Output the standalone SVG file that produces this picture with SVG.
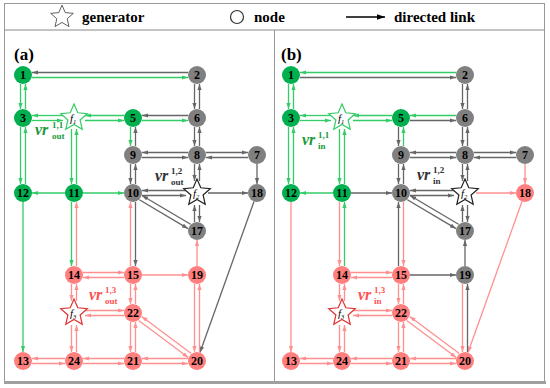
<svg xmlns="http://www.w3.org/2000/svg" width="550" height="388" viewBox="0 0 550 388">
<style>
.lg{stroke:#33cc66;stroke-width:1.3;fill:none;marker-end:url(#mg)}
.lk{stroke:#666;stroke-width:1.3;fill:none;marker-end:url(#mk)}
.lp{stroke:#ff9090;stroke-width:1.3;fill:none;marker-end:url(#mp)}
.ng{fill:#00b04f}
.nk{fill:#808080}
.np{fill:#ff7f7f}
.t{font-family:"Liberation Serif",serif;font-weight:bold;font-size:12px;text-anchor:middle;fill:#000}
.sf{font-family:"Liberation Serif",serif;font-style:italic;font-size:11px;fill:#000}
.ss{font-family:"Liberation Serif",serif;font-size:6.5px;fill:#000}
.vr{font-family:"Liberation Serif",serif;font-weight:bold;font-size:16px}
.vs{font-family:"Liberation Serif",serif;font-weight:bold;font-size:9px;font-style:normal}
.leg{font-family:"Liberation Serif",serif;font-weight:bold;font-size:15px;fill:#000}
.pl{font-family:"Liberation Serif",serif;font-weight:bold;font-size:17px;fill:#000}
</style>
<defs>
<marker id="mg" viewBox="0 0 10 10" refX="10" refY="5" markerWidth="6" markerHeight="6" orient="auto" markerUnits="userSpaceOnUse"><path d="M0,1.5 L10,5 L0,8.5 z" fill="#33cc66"/></marker>
<marker id="mk" viewBox="0 0 10 10" refX="10" refY="5" markerWidth="6" markerHeight="6" orient="auto" markerUnits="userSpaceOnUse"><path d="M0,1.5 L10,5 L0,8.5 z" fill="#666"/></marker>
<marker id="mp" viewBox="0 0 10 10" refX="10" refY="5" markerWidth="6" markerHeight="6" orient="auto" markerUnits="userSpaceOnUse"><path d="M0,1.5 L10,5 L0,8.5 z" fill="#ff9090"/></marker>
<marker id="mb" viewBox="0 0 10 10" refX="10" refY="5" markerWidth="8" markerHeight="8" orient="auto" markerUnits="userSpaceOnUse"><path d="M0,1.5 L10,5 L0,8.5 z" fill="#000"/></marker>
<path id="star" d="M0,-14 L3.8,-5.2 L13.3,-4.3 L6.1,2 L8.2,11.3 L0,6.4 L-8.2,11.3 L-6.1,2 L-13.3,-4.3 L-3.8,-5.2 Z"/>
</defs>
<rect width="550" height="388" fill="#fff"/>
<g id="frame" fill="none">
<rect x="4.5" y="3.5" width="540" height="378" stroke="#999" stroke-width="1"/>
<line x1="4.5" y1="30" x2="544.5" y2="30" stroke="#888" stroke-width="1"/>
<line x1="274.5" y1="30" x2="274.5" y2="382" stroke="#999" stroke-width="1"/>
<line x1="4" y1="382.5" x2="546" y2="382.5" stroke="#a0a0a0" stroke-width="3"/>
</g>
<g id="legend">
<use href="#star" transform="translate(62,17) scale(0.85)" fill="#fff" stroke="#444" stroke-width="1"/>
<text class="leg" x="82" y="22">generator</text>
<circle cx="237" cy="17" r="6.5" fill="#fff" stroke="#333" stroke-width="1.2"/>
<text class="leg" x="254" y="22">node</text>
<line x1="346" y1="17" x2="385" y2="17" stroke="#000" stroke-width="1.5" marker-end="url(#mb)"/>
<text class="leg" x="394" y="22">directed link</text>
</g>
<g id="panel-a">
<text class="pl" x="14" y="60">(a)</text>
<g id="a-connectors">
<line class="lg" x1="32" y1="77.5" x2="188" y2="77.5"/>
<line class="lk" x1="188" y1="72.5" x2="32" y2="72.5"/>
<line class="lg" x1="20.5" y1="84" x2="20.5" y2="109"/>
<line class="lg" x1="25.5" y1="109" x2="25.5" y2="84"/>
<line class="lg" x1="63" y1="115.5" x2="32" y2="115.5"/>
<line class="lg" x1="32" y1="120.5" x2="63" y2="120.5"/>
<line class="lg" x1="124" y1="115.5" x2="85" y2="115.5"/>
<line class="lg" x1="85" y1="120.5" x2="124" y2="120.5"/>
<line class="lk" x1="188" y1="115.5" x2="142" y2="115.5"/>
<line class="lg" x1="142" y1="120.5" x2="188" y2="120.5"/>
<line class="lg" x1="130.5" y1="127" x2="130.5" y2="146"/>
<line class="lk" x1="135.5" y1="146" x2="135.5" y2="127"/>
<line class="lg" x1="20.5" y1="127" x2="20.5" y2="184"/>
<line class="lg" x1="25.5" y1="184" x2="25.5" y2="127"/>
<line class="lg" x1="71.5" y1="129" x2="71.5" y2="184"/>
<line class="lg" x1="76.5" y1="184" x2="76.5" y2="129"/>
<line class="lg" x1="65" y1="193" x2="32" y2="193"/>
<line class="lg" x1="83" y1="193" x2="124" y2="193"/>
<line class="lg" x1="23" y1="202" x2="23" y2="352"/>
<line class="lg" x1="71.5" y1="202" x2="71.5" y2="266"/>
<line class="lp" x1="76.5" y1="266" x2="76.5" y2="202"/>
<line class="lk" x1="194.5" y1="84" x2="194.5" y2="109"/>
<line class="lk" x1="199.5" y1="109" x2="199.5" y2="84"/>
<line class="lk" x1="194.5" y1="127" x2="194.5" y2="146"/>
<line class="lk" x1="199.5" y1="146" x2="199.5" y2="127"/>
<line class="lk" x1="188" y1="152.5" x2="142" y2="152.5"/>
<line class="lk" x1="142" y1="157.5" x2="188" y2="157.5"/>
<line class="lk" x1="206" y1="152.5" x2="248" y2="152.5"/>
<line class="lk" x1="248" y1="157.5" x2="206" y2="157.5"/>
<line class="lk" x1="130.5" y1="164" x2="130.5" y2="184"/>
<line class="lk" x1="135.5" y1="184" x2="135.5" y2="164"/>
<line class="lk" x1="194.5" y1="164" x2="194.5" y2="181"/>
<line class="lk" x1="199.5" y1="181" x2="199.5" y2="164"/>
<line class="lk" x1="257" y1="164" x2="257" y2="184"/>
<line class="lk" x1="186" y1="190.5" x2="142" y2="190.5"/>
<line class="lk" x1="142" y1="195.5" x2="186" y2="195.5"/>
<line class="lk" x1="208" y1="193" x2="248" y2="193"/>
<line class="lk" x1="194.5" y1="222" x2="194.5" y2="205"/>
<line class="lk" x1="199.5" y1="205" x2="199.5" y2="222"/>
<line class="lk" x1="190.6" y1="224.2" x2="142" y2="195.5"/>
<line class="lk" x1="139.4" y1="199.8" x2="188" y2="228.6"/>
<line class="lk" x1="135.5" y1="202" x2="135.5" y2="266"/>
<line class="lp" x1="130.5" y1="266" x2="130.5" y2="202"/>
<line class="lk" x1="254" y1="201.5" x2="200" y2="352.5"/>
<line class="lp" x1="197" y1="266" x2="197" y2="240"/>
<line class="lp" x1="83" y1="272.5" x2="124" y2="272.5"/>
<line class="lp" x1="124" y1="277.5" x2="83" y2="277.5"/>
<line class="lp" x1="142" y1="275" x2="188" y2="275"/>
<line class="lp" x1="71.5" y1="284" x2="71.5" y2="301"/>
<line class="lp" x1="76.5" y1="301" x2="76.5" y2="284"/>
<line class="lp" x1="130.5" y1="284" x2="130.5" y2="304"/>
<line class="lp" x1="135.5" y1="304" x2="135.5" y2="284"/>
<line class="lp" x1="194.5" y1="284" x2="194.5" y2="352"/>
<line class="lp" x1="199.5" y1="352" x2="199.5" y2="284"/>
<line class="lp" x1="85" y1="310.5" x2="124" y2="310.5"/>
<line class="lp" x1="124" y1="315.5" x2="85" y2="315.5"/>
<line class="lp" x1="71.5" y1="325" x2="71.5" y2="352"/>
<line class="lp" x1="76.5" y1="352" x2="76.5" y2="325"/>
<line class="lp" x1="130.5" y1="322" x2="130.5" y2="352"/>
<line class="lp" x1="135.5" y1="352" x2="135.5" y2="322"/>
<line class="lp" x1="191.3" y1="353.6" x2="141.7" y2="316.4"/>
<line class="lp" x1="138.7" y1="320.4" x2="188.3" y2="357.6"/>
<line class="lp" x1="65" y1="358.5" x2="32" y2="358.5"/>
<line class="lp" x1="32" y1="363.5" x2="65" y2="363.5"/>
<line class="lp" x1="124" y1="358.5" x2="83" y2="358.5"/>
<line class="lp" x1="83" y1="363.5" x2="124" y2="363.5"/>
<line class="lp" x1="188" y1="358.5" x2="142" y2="358.5"/>
<line class="lp" x1="142" y1="363.5" x2="188" y2="363.5"/>
</g>
<g id="a-n1"><circle class="ng" cx="23" cy="75" r="9"/><text class="t" x="23" y="79.2">1</text></g>
<g id="a-n2"><circle class="nk" cx="197" cy="75" r="9"/><text class="t" x="197" y="79.2">2</text></g>
<g id="a-n3"><circle class="ng" cx="23" cy="118" r="9"/><text class="t" x="23" y="122.2">3</text></g>
<g id="a-n5"><circle class="ng" cx="133" cy="118" r="9"/><text class="t" x="133" y="122.2">5</text></g>
<g id="a-n6"><circle class="nk" cx="197" cy="118" r="9"/><text class="t" x="197" y="122.2">6</text></g>
<g id="a-n9"><circle class="nk" cx="133" cy="155" r="9"/><text class="t" x="133" y="159.2">9</text></g>
<g id="a-n8"><circle class="nk" cx="197" cy="155" r="9"/><text class="t" x="197" y="159.2">8</text></g>
<g id="a-n7"><circle class="nk" cx="257" cy="155" r="9"/><text class="t" x="257" y="159.2">7</text></g>
<g id="a-n12"><circle class="ng" cx="23" cy="193" r="9"/><text class="t" x="23" y="197.2">12</text></g>
<g id="a-n11"><circle class="ng" cx="74" cy="193" r="9"/><text class="t" x="74" y="197.2">11</text></g>
<g id="a-n10"><circle class="nk" cx="133" cy="193" r="9"/><text class="t" x="133" y="197.2">10</text></g>
<g id="a-n18"><circle class="nk" cx="257" cy="193" r="9"/><text class="t" x="257" y="197.2">18</text></g>
<g id="a-n17"><circle class="nk" cx="197" cy="231" r="9"/><text class="t" x="197" y="235.2">17</text></g>
<g id="a-n14"><circle class="np" cx="74" cy="275" r="9"/><text class="t" x="74" y="279.2">14</text></g>
<g id="a-n15"><circle class="np" cx="133" cy="275" r="9"/><text class="t" x="133" y="279.2">15</text></g>
<g id="a-n19"><circle class="np" cx="197" cy="275" r="9"/><text class="t" x="197" y="279.2">19</text></g>
<g id="a-n22"><circle class="np" cx="133" cy="313" r="9"/><text class="t" x="133" y="317.2">22</text></g>
<g id="a-n13"><circle class="np" cx="23" cy="361" r="9"/><text class="t" x="23" y="365.2">13</text></g>
<g id="a-n24"><circle class="np" cx="74" cy="361" r="9"/><text class="t" x="74" y="365.2">24</text></g>
<g id="a-n21"><circle class="np" cx="133" cy="361" r="9"/><text class="t" x="133" y="365.2">21</text></g>
<g id="a-n20"><circle class="np" cx="197" cy="361" r="9"/><text class="t" x="197" y="365.2">20</text></g>
<g id="a-f1"><use href="#star" transform="translate(74,118)" fill="#fff" stroke="#33cc66" stroke-width="1.2"/><text class="sf" x="70" y="121.5">f<tspan class="ss" dy="2">1</tspan></text></g>
<g id="a-f2"><use href="#star" transform="translate(197,193)" fill="#fff" stroke="#222" stroke-width="1.2"/><text class="sf" x="193" y="196.5">f<tspan class="ss" dy="2">2</tspan></text></g>
<g id="a-f3"><use href="#star" transform="translate(74,313)" fill="#fff" stroke="#e03030" stroke-width="1.2"/><text class="sf" x="70" y="316.5">f<tspan class="ss" dy="2">3</tspan></text></g>
<text class="vr" fill="#1a9a3a"><tspan x="35" y="135" font-style="italic">vr</tspan><tspan class="vs" x="52" y="128">1,1</tspan><tspan class="vs" x="52" y="139">out</tspan></text>
<text class="vr" fill="#333"><tspan x="155" y="181" font-style="italic">vr</tspan><tspan class="vs" x="171" y="174">1,2</tspan><tspan class="vs" x="171" y="185">out</tspan></text>
<text class="vr" fill="#ff5050"><tspan x="89" y="300" font-style="italic">vr</tspan><tspan class="vs" x="105" y="293">1,3</tspan><tspan class="vs" x="105" y="304">out</tspan></text>
</g>
<g id="panel-b" transform="translate(268,0)">
<text class="pl" x="13" y="60">(b)</text>
<g id="b-connectors">
<line class="lk" x1="32" y1="77.5" x2="188" y2="77.5"/>
<line class="lg" x1="188" y1="72.5" x2="32" y2="72.5"/>
<line class="lg" x1="20.5" y1="84" x2="20.5" y2="109"/>
<line class="lg" x1="25.5" y1="109" x2="25.5" y2="84"/>
<line class="lg" x1="63" y1="115.5" x2="32" y2="115.5"/>
<line class="lg" x1="32" y1="120.5" x2="63" y2="120.5"/>
<line class="lg" x1="124" y1="115.5" x2="85" y2="115.5"/>
<line class="lg" x1="85" y1="120.5" x2="124" y2="120.5"/>
<line class="lg" x1="188" y1="115.5" x2="142" y2="115.5"/>
<line class="lk" x1="142" y1="120.5" x2="188" y2="120.5"/>
<line class="lk" x1="130.5" y1="127" x2="130.5" y2="146"/>
<line class="lg" x1="135.5" y1="146" x2="135.5" y2="127"/>
<line class="lg" x1="20.5" y1="127" x2="20.5" y2="184"/>
<line class="lg" x1="25.5" y1="184" x2="25.5" y2="127"/>
<line class="lg" x1="71.5" y1="129" x2="71.5" y2="184"/>
<line class="lg" x1="76.5" y1="184" x2="76.5" y2="129"/>
<line class="lg" x1="65" y1="193" x2="32" y2="193"/>
<line class="lk" x1="83" y1="193" x2="124" y2="193"/>
<line class="lp" x1="23" y1="202" x2="23" y2="352"/>
<line class="lp" x1="71.5" y1="202" x2="71.5" y2="266"/>
<line class="lg" x1="76.5" y1="266" x2="76.5" y2="202"/>
<line class="lk" x1="194.5" y1="84" x2="194.5" y2="109"/>
<line class="lk" x1="199.5" y1="109" x2="199.5" y2="84"/>
<line class="lk" x1="194.5" y1="127" x2="194.5" y2="146"/>
<line class="lk" x1="199.5" y1="146" x2="199.5" y2="127"/>
<line class="lk" x1="188" y1="152.5" x2="142" y2="152.5"/>
<line class="lk" x1="142" y1="157.5" x2="188" y2="157.5"/>
<line class="lk" x1="206" y1="152.5" x2="248" y2="152.5"/>
<line class="lk" x1="248" y1="157.5" x2="206" y2="157.5"/>
<line class="lk" x1="130.5" y1="164" x2="130.5" y2="184"/>
<line class="lk" x1="135.5" y1="184" x2="135.5" y2="164"/>
<line class="lk" x1="194.5" y1="164" x2="194.5" y2="181"/>
<line class="lk" x1="199.5" y1="181" x2="199.5" y2="164"/>
<line class="lp" x1="257" y1="164" x2="257" y2="184"/>
<line class="lk" x1="186" y1="190.5" x2="142" y2="190.5"/>
<line class="lk" x1="142" y1="195.5" x2="186" y2="195.5"/>
<line class="lp" x1="208" y1="193" x2="248" y2="193"/>
<line class="lk" x1="194.5" y1="222" x2="194.5" y2="205"/>
<line class="lk" x1="199.5" y1="205" x2="199.5" y2="222"/>
<line class="lk" x1="190.6" y1="224.2" x2="142" y2="195.5"/>
<line class="lk" x1="139.4" y1="199.8" x2="188" y2="228.6"/>
<line class="lp" x1="135.5" y1="202" x2="135.5" y2="266"/>
<line class="lk" x1="130.5" y1="266" x2="130.5" y2="202"/>
<line class="lp" x1="254" y1="201.5" x2="200" y2="352.5"/>
<line class="lk" x1="197" y1="266" x2="197" y2="240"/>
<line class="lp" x1="83" y1="272.5" x2="124" y2="272.5"/>
<line class="lp" x1="124" y1="277.5" x2="83" y2="277.5"/>
<line class="lk" x1="142" y1="275" x2="188" y2="275"/>
<line class="lp" x1="71.5" y1="284" x2="71.5" y2="301"/>
<line class="lp" x1="76.5" y1="301" x2="76.5" y2="284"/>
<line class="lp" x1="130.5" y1="284" x2="130.5" y2="304"/>
<line class="lp" x1="135.5" y1="304" x2="135.5" y2="284"/>
<line class="lp" x1="194.5" y1="284" x2="194.5" y2="352"/>
<line class="lk" x1="199.5" y1="352" x2="199.5" y2="284"/>
<line class="lp" x1="85" y1="310.5" x2="124" y2="310.5"/>
<line class="lp" x1="124" y1="315.5" x2="85" y2="315.5"/>
<line class="lp" x1="71.5" y1="325" x2="71.5" y2="352"/>
<line class="lp" x1="76.5" y1="352" x2="76.5" y2="325"/>
<line class="lp" x1="130.5" y1="322" x2="130.5" y2="352"/>
<line class="lp" x1="135.5" y1="352" x2="135.5" y2="322"/>
<line class="lp" x1="191.3" y1="353.6" x2="141.7" y2="316.4"/>
<line class="lp" x1="138.7" y1="320.4" x2="188.3" y2="357.6"/>
<line class="lp" x1="65" y1="358.5" x2="32" y2="358.5"/>
<line class="lp" x1="32" y1="363.5" x2="65" y2="363.5"/>
<line class="lp" x1="124" y1="358.5" x2="83" y2="358.5"/>
<line class="lp" x1="83" y1="363.5" x2="124" y2="363.5"/>
<line class="lp" x1="188" y1="358.5" x2="142" y2="358.5"/>
<line class="lp" x1="142" y1="363.5" x2="188" y2="363.5"/>
</g>
<g id="b-n1"><circle class="ng" cx="23" cy="75" r="9"/><text class="t" x="23" y="79.2">1</text></g>
<g id="b-n2"><circle class="nk" cx="197" cy="75" r="9"/><text class="t" x="197" y="79.2">2</text></g>
<g id="b-n3"><circle class="ng" cx="23" cy="118" r="9"/><text class="t" x="23" y="122.2">3</text></g>
<g id="b-n5"><circle class="ng" cx="133" cy="118" r="9"/><text class="t" x="133" y="122.2">5</text></g>
<g id="b-n6"><circle class="nk" cx="197" cy="118" r="9"/><text class="t" x="197" y="122.2">6</text></g>
<g id="b-n9"><circle class="nk" cx="133" cy="155" r="9"/><text class="t" x="133" y="159.2">9</text></g>
<g id="b-n8"><circle class="nk" cx="197" cy="155" r="9"/><text class="t" x="197" y="159.2">8</text></g>
<g id="b-n7"><circle class="nk" cx="257" cy="155" r="9"/><text class="t" x="257" y="159.2">7</text></g>
<g id="b-n12"><circle class="ng" cx="23" cy="193" r="9"/><text class="t" x="23" y="197.2">12</text></g>
<g id="b-n11"><circle class="ng" cx="74" cy="193" r="9"/><text class="t" x="74" y="197.2">11</text></g>
<g id="b-n10"><circle class="nk" cx="133" cy="193" r="9"/><text class="t" x="133" y="197.2">10</text></g>
<g id="b-n18"><circle class="np" cx="257" cy="193" r="9"/><text class="t" x="257" y="197.2">18</text></g>
<g id="b-n17"><circle class="nk" cx="197" cy="231" r="9"/><text class="t" x="197" y="235.2">17</text></g>
<g id="b-n14"><circle class="np" cx="74" cy="275" r="9"/><text class="t" x="74" y="279.2">14</text></g>
<g id="b-n15"><circle class="np" cx="133" cy="275" r="9"/><text class="t" x="133" y="279.2">15</text></g>
<g id="b-n19"><circle class="nk" cx="197" cy="275" r="9"/><text class="t" x="197" y="279.2">19</text></g>
<g id="b-n22"><circle class="np" cx="133" cy="313" r="9"/><text class="t" x="133" y="317.2">22</text></g>
<g id="b-n13"><circle class="np" cx="23" cy="361" r="9"/><text class="t" x="23" y="365.2">13</text></g>
<g id="b-n24"><circle class="np" cx="74" cy="361" r="9"/><text class="t" x="74" y="365.2">24</text></g>
<g id="b-n21"><circle class="np" cx="133" cy="361" r="9"/><text class="t" x="133" y="365.2">21</text></g>
<g id="b-n20"><circle class="np" cx="197" cy="361" r="9"/><text class="t" x="197" y="365.2">20</text></g>
<g id="b-f1"><use href="#star" transform="translate(74,118)" fill="#fff" stroke="#33cc66" stroke-width="1.2"/><text class="sf" x="70" y="121.5">f<tspan class="ss" dy="2">1</tspan></text></g>
<g id="b-f2"><use href="#star" transform="translate(197,193)" fill="#fff" stroke="#222" stroke-width="1.2"/><text class="sf" x="193" y="196.5">f<tspan class="ss" dy="2">2</tspan></text></g>
<g id="b-f3"><use href="#star" transform="translate(74,313)" fill="#fff" stroke="#e03030" stroke-width="1.2"/><text class="sf" x="70" y="316.5">f<tspan class="ss" dy="2">3</tspan></text></g>
<text class="vr" fill="#1a9a3a"><tspan x="34" y="145" font-style="italic">vr</tspan><tspan class="vs" x="50" y="138">1,1</tspan><tspan class="vs" x="50" y="149">in</tspan></text>
<text class="vr" fill="#333"><tspan x="149" y="180" font-style="italic">vr</tspan><tspan class="vs" x="165" y="173">1,2</tspan><tspan class="vs" x="165" y="184">in</tspan></text>
<text class="vr" fill="#ff5050"><tspan x="90" y="300" font-style="italic">vr</tspan><tspan class="vs" x="106" y="293">1,3</tspan><tspan class="vs" x="106" y="304">in</tspan></text>
</g>
</svg>
